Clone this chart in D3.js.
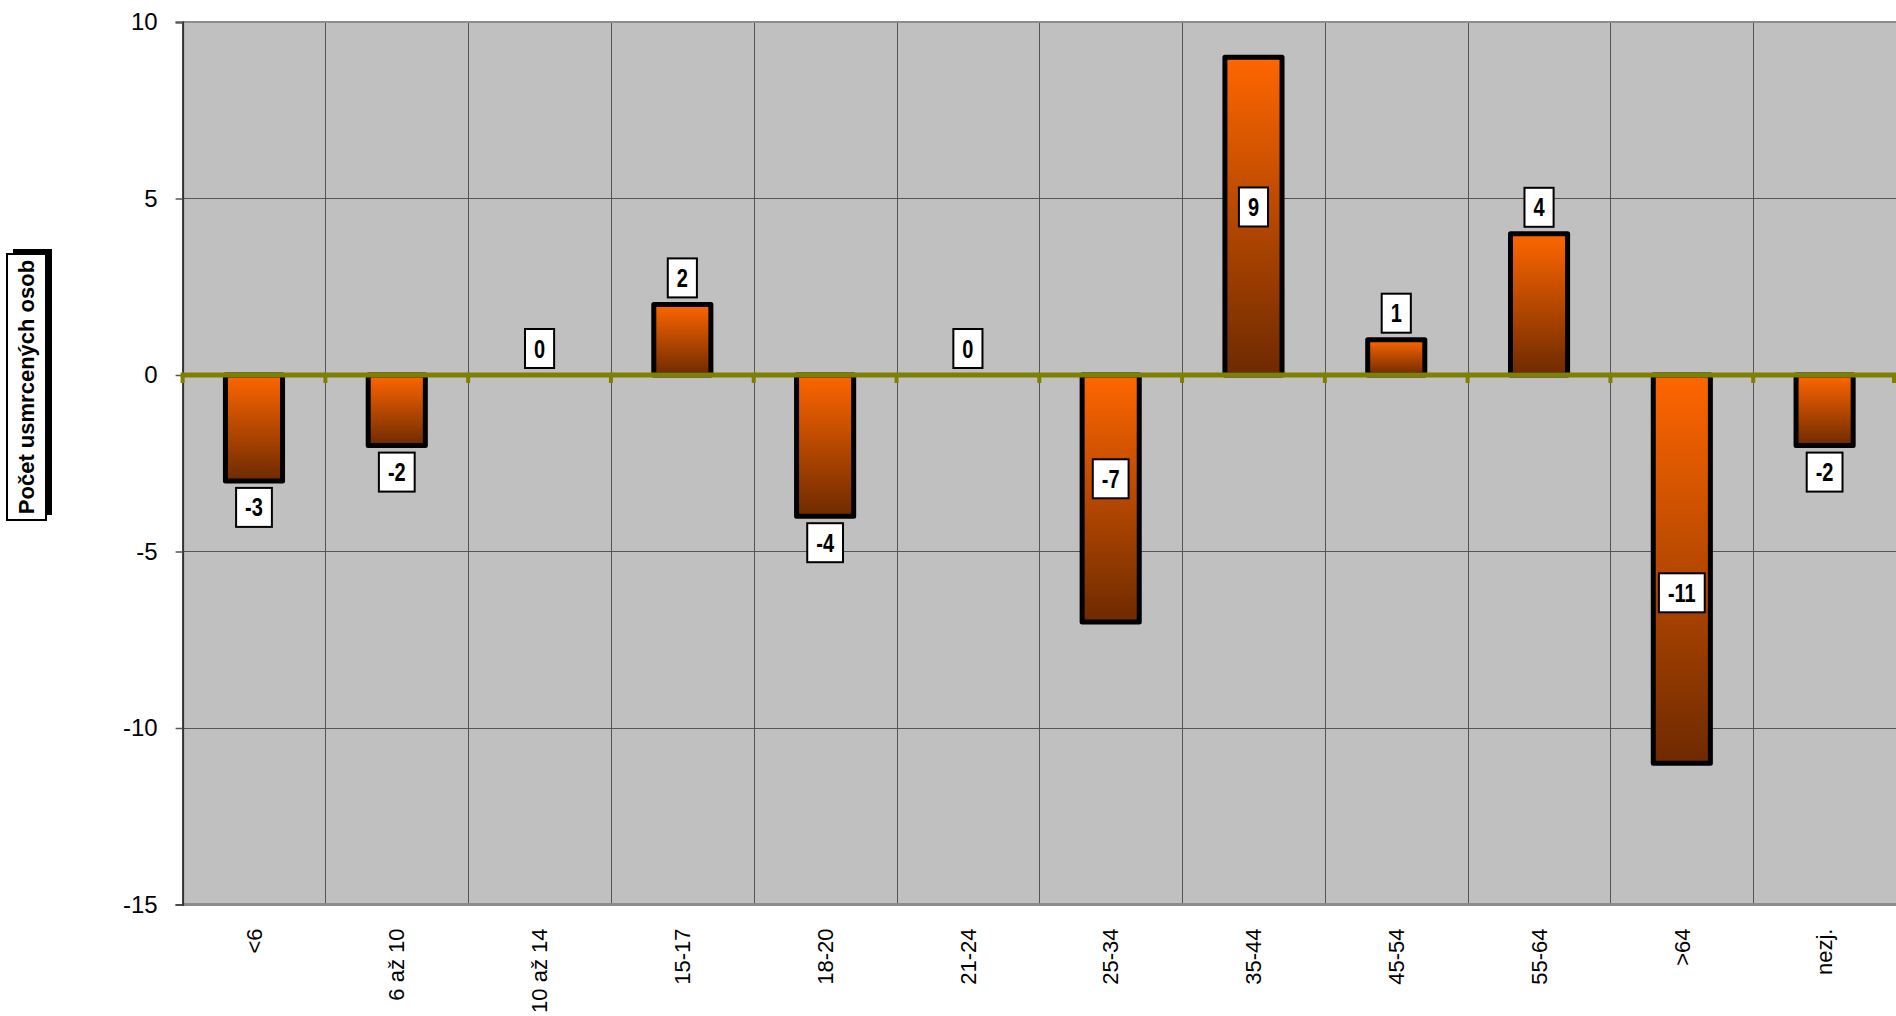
<!DOCTYPE html>
<html>
<head>
<meta charset="utf-8">
<script src="https://cdn.jsdelivr.net/npm/d3@7"></script>
<style>
  html, body { margin: 0; padding: 0; background: #ffffff; }
  svg { display: block; }
</style>
</head>
<body>
<svg id="chart" width="1896" height="1016"></svg>
<script>
// ---- data ----
const categories = ["<6", "6 až 10", "10 až 14", "15-17", "18-20", "21-24", "25-34", "35-44", "45-54", "55-64", ">64", "nezj."];
const values = [-3, -2, 0, 2, -4, 0, -7, 9, 1, 4, -11, -2];
// where the value label sits when it is placed inside the bar (in axis units), null = outside end
const insideLabelAt = [null, null, null, null, null, null, -2.94, 4.76, null, null, -6.17, null];
const yTicks = [-15, -10, -5, 0, 5, 10];
const yDomain = [-15, 10];
const yTitle = "Počet usmrcených osob";

// ---- layout ----
const plot = { left: 182.6, right: 1896, top: 22, bottom: 904.5 };

const svg = d3.select("#chart");

const x = d3.scaleBand().domain(categories).range([plot.left, plot.right]).paddingInner(0).paddingOuter(0);
const y = d3.scaleLinear().domain(yDomain).range([plot.bottom, plot.top]);

const defs = svg.append("defs");
const grad = defs.append("linearGradient").attr("id", "barGrad")
  .attr("x1", 0).attr("y1", 0).attr("x2", 0).attr("y2", 1);
grad.append("stop").attr("offset", "0%").attr("stop-color", "#FF6600");
grad.append("stop").attr("offset", "100%").attr("stop-color", "#6E2A00");

// plot background
svg.append("rect")
  .attr("x", plot.left).attr("y", plot.top)
  .attr("width", plot.right - plot.left).attr("height", plot.bottom - plot.top)
  .attr("fill", "#C0C0C0");

// horizontal gridlines
svg.append("g").selectAll("line")
  .data(yTicks.filter(t => t !== yDomain[0] && t !== yDomain[1] && t !== 0))
  .join("line")
  .attr("x1", plot.left).attr("x2", plot.right)
  .attr("y1", d => Math.round(y(d)) + 0.5).attr("y2", d => Math.round(y(d)) + 0.5)
  .attr("stroke", "#555").attr("stroke-width", 1);

// vertical gridlines at category boundaries
const step = x.step();
const boundaries = d3.range(1, categories.length).map(i => plot.left + i * step);
svg.append("g").selectAll("line")
  .data(boundaries)
  .join("line")
  .attr("x1", d => Math.round(d) + 0.5).attr("x2", d => Math.round(d) + 0.5)
  .attr("y1", plot.top).attr("y2", plot.bottom)
  .attr("stroke", "#555").attr("stroke-width", 1);

// top & bottom frame
svg.append("line")
  .attr("x1", plot.left).attr("x2", plot.right)
  .attr("y1", y(yDomain[1])).attr("y2", y(yDomain[1]))
  .attr("stroke", "#8c8c8c").attr("stroke-width", 2);
svg.append("line")
  .attr("x1", plot.left).attr("x2", plot.right)
  .attr("y1", y(yDomain[0])).attr("y2", y(yDomain[0]))
  .attr("stroke", "#8c8c8c").attr("stroke-width", 3);

// y axis
const yAxis = svg.append("g")
  .attr("transform", `translate(${plot.left},0)`)
  .call(d3.axisLeft(y).tickValues(yTicks).tickSize(7).tickPadding(18).tickFormat(d3.format("d")));
yAxis.select(".domain").attr("stroke", "#333").attr("stroke-width", 2);
yAxis.selectAll(".tick line").attr("stroke", "#555").attr("stroke-width", 1.5);
yAxis.selectAll(".tick text")
  .attr("font-family", "'Liberation Sans', Arial, sans-serif")
  .attr("font-size", 24).attr("fill", "#000")
  .text(d => d < 0 ? "-" + Math.abs(d) : d);

// bars
const barW = step * 0.4;
svg.append("g").selectAll("rect")
  .data(values.map((v, i) => ({ v, c: categories[i] })).filter(d => d.v !== 0))
  .join("rect")
  .attr("x", d => x(d.c) + step / 2 - barW / 2)
  .attr("width", barW)
  .attr("y", d => y(Math.max(0, d.v)))
  .attr("height", d => Math.abs(y(d.v) - y(0)))
  .attr("fill", "url(#barGrad)")
  .attr("stroke", "#000").attr("stroke-width", 5)
  .attr("stroke-linejoin", "round");

// zero line (category axis) with ticks
const zeroG = svg.append("g");
zeroG.selectAll("line.tk")
  .data([plot.left, ...boundaries, plot.right - 2])
  .join("line").attr("class", "tk")
  .attr("x1", d => d).attr("x2", d => d)
  .attr("y1", y(0)).attr("y2", y(0) + 8)
  .attr("stroke", "#808000").attr("stroke-width", 4);
zeroG.append("line")
  .attr("x1", plot.left - 2).attr("x2", plot.right)
  .attr("y1", y(0)).attr("y2", y(0))
  .attr("stroke", "#808000").attr("stroke-width", 5);

// x axis labels (rotated)
const xAxis = svg.append("g")
  .attr("transform", `translate(0,${plot.bottom})`)
  .call(d3.axisBottom(x).tickSize(0));
xAxis.select(".domain").remove();
xAxis.selectAll(".tick text")
  .attr("font-family", "'Liberation Sans', Arial, sans-serif")
  .attr("font-size", 22).attr("fill", "#000")
  .attr("transform", "rotate(-90)")
  .attr("text-anchor", "end")
  .attr("x", -24).attr("y", 0).attr("dy", "0.35em");

// value labels (condensed bold)
const squeeze = 0.8;
const lblG = svg.append("g");
values.forEach((v, i) => {
  const cx = x(categories[i]) + step / 2;
  const g = lblG.append("g");
  const t = g.append("text")
    .attr("font-family", "'Liberation Sans', Arial, sans-serif").attr("font-weight", "bold")
    .attr("font-size", 25).attr("text-anchor", "middle")
    .attr("fill", "#000")
    .text(v < 0 ? "-" + Math.abs(v) : String(v));
  const tw = t.node().getComputedTextLength() * squeeze;
  const bw = tw + 18, bh = 39;
  let cy;
  if (insideLabelAt[i] !== null) cy = y(insideLabelAt[i]);
  else if (v >= 0) cy = y(v) - 7 - bh / 2;
  else cy = y(v) + 7 + bh / 2;
  g.insert("rect", "text")
    .attr("x", cx - bw / 2).attr("y", cy - bh / 2)
    .attr("width", bw).attr("height", bh)
    .attr("fill", "#fff").attr("stroke", "#000").attr("stroke-width", 2);
  t.attr("transform", `translate(${cx},${cy}) scale(${squeeze},1)`).attr("dy", "0.36em");
});

// y axis title box with shadow
const tb = { x: 7, y: 254, w: 39, h: 266 };
svg.append("rect").attr("x", tb.x + 6).attr("y", tb.y - 5).attr("width", tb.w).attr("height", tb.h).attr("fill", "#000");
svg.append("rect").attr("x", tb.x).attr("y", tb.y).attr("width", tb.w).attr("height", tb.h)
  .attr("fill", "#fff").attr("stroke", "#000").attr("stroke-width", 2);
svg.append("text")
  .attr("transform", `translate(${tb.x + tb.w / 2},${tb.y + tb.h / 2}) rotate(-90)`)
  .attr("text-anchor", "middle").attr("dy", "0.35em")
  .attr("font-family", "'Liberation Sans', Arial, sans-serif")
  .attr("font-weight", "bold").attr("font-size", 22).attr("fill", "#000")
  .text(yTitle);
</script>
</body>
</html>
